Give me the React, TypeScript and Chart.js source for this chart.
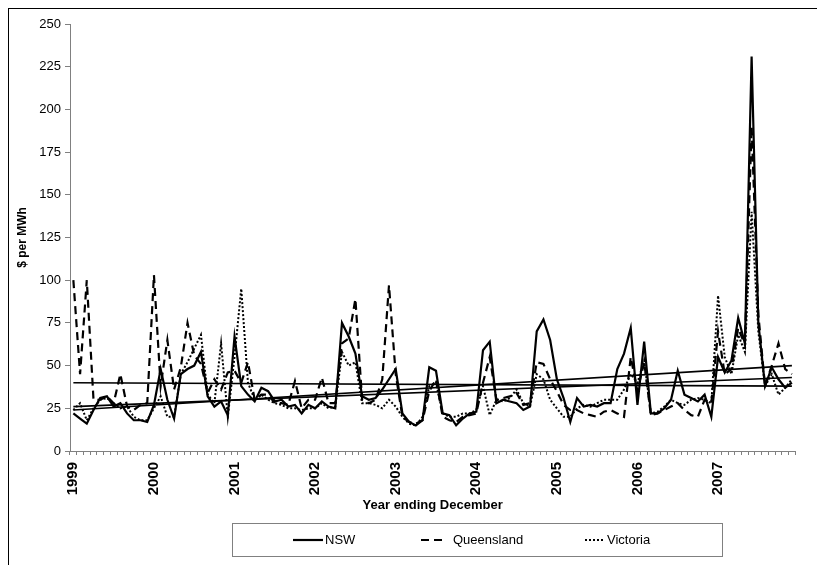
import { useEffect, useRef } from "react";
import { Chart, registerables } from "chart.js";

Chart.register(...registerables);

const years = ["1999", "2000", "2001", "2002", "2003", "2004", "2005", "2006", "2007"];
const months = ["Jan", "Feb", "Mar", "Apr", "May", "Jun", "Jul", "Aug", "Sep", "Oct", "Nov", "Dec"];
const seriesNames = ["NSW", "Queensland", "Victoria"];

const nsw = [
  22, 19, 16, 24, 31, 32, 26, 28, 22, 18, 18, 17,
  27, 48, 30, 19, 45, 48, 50, 58, 32, 26, 29, 21,
  67, 38, 33, 29, 37, 35, 29, 30, 26, 27, 22, 27,
  25, 29, 26, 25, 75, 67, 57, 32, 30, 31, 36, 42,
  48, 22, 17, 15, 18, 49, 47, 22, 21, 15, 19, 22,
  23, 59, 64, 28, 30, 29, 28, 24, 26, 70, 77, 65,
  42, 31, 17, 31, 26, 27, 26, 28, 28, 48, 57, 72,
  27, 64, 22, 22, 25, 30, 47, 33, 31, 29, 33, 20,
  55, 46, 53, 78, 63, 231, 75, 38, 49, 42, 37, 40,
];

const queensland = [
  100, 45, 100, 30, 30, 32, 28, 45, 26, 24, 27, 28,
  103, 38, 65, 36, 49, 75, 56, 51, 34, 42, 36, 46,
  47, 40, 52, 30, 33, 33, 28, 28, 27, 41, 25, 30,
  30, 43, 28, 28, 63, 66, 89, 30, 28, 30, 42, 97,
  45, 20, 17, 16, 18, 35, 42, 20, 18, 17, 20, 21,
  22, 40, 55, 30, 31, 32, 34, 27, 28, 52, 51, 42,
  35, 27, 24, 24, 22, 21, 20, 23, 24, 22, 20, 55,
  35, 52, 21, 22, 24, 26, 28, 24, 21, 20, 30, 28,
  70, 45, 48, 72, 62, 190, 80, 38, 50, 63, 48, 45,
];

const victoria = [
  24, 28, 18, 25, 30, 31, 28, 25, 26, 20, 18, 18,
  25, 32, 20, 20, 45, 52, 60, 68, 33, 28, 63, 20,
  55, 95, 40, 30, 33, 30, 28, 27, 25, 25, 24, 25,
  25, 28, 25, 26, 58, 50, 52, 28, 28, 27, 25, 30,
  26, 20, 16, 15, 20, 38, 40, 22, 20, 20, 22, 22,
  24, 38, 21, 30, 29, 31, 36, 28, 26, 45, 42, 30,
  25, 20, 20, 25, 27, 26, 28, 30, 30, 30, 36, 45,
  40, 53, 22, 23, 26, 30, 28, 27, 30, 31, 30, 28,
  91, 55, 45, 68, 58, 140, 70, 38, 45, 33, 37, 42,
];

// Linear trend lines (NSW, Queensland, Victoria): value at first and last month
const trendStart = [24, 40, 26];
const trendEnd = [50, 38, 43];

const yMin = 0;
const yMax = 250;
const yStep = 25;

const FONT = "'Liberation Sans', Arial, Helvetica, sans-serif";

const boxLegend = {
  id: "boxLegend",
  afterDraw(chart: any) {
    const ctx = chart.ctx as CanvasRenderingContext2D;
    ctx.save();
    ctx.strokeStyle = "#808080";
    ctx.lineWidth = 1;
    ctx.setLineDash([]);
    ctx.strokeRect(223.5, 514.5, 490, 33);
    const items = [
      { ds: 0, x0: 284, x1: 314, tx: 316 },
      { ds: 1, x0: 412, x1: 435, tx: 444 },
      { ds: 2, x0: 576, x1: 596, tx: 598 },
    ];
    const cy = 531;
    ctx.font = `13px ${FONT}`;
    ctx.textBaseline = "middle";
    ctx.textAlign = "left";
    ctx.fillStyle = "#000";
    items.forEach(({ ds, x0, x1, tx }) => {
      const d = chart.data.datasets[ds];
      ctx.beginPath();
      ctx.strokeStyle = "#000";
      ctx.lineWidth = d.borderWidth;
      ctx.setLineDash(d.borderDash || []);
      ctx.moveTo(x0, cy);
      ctx.lineTo(x1, cy);
      ctx.stroke();
      ctx.setLineDash([]);
      ctx.fillText(d.label, tx, cy);
    });
    ctx.restore();
  },
};

export default function App() {
  const ref = useRef<HTMLCanvasElement | null>(null);

  useEffect(() => {
    if (!ref.current) return;
    Chart.defaults.font.family = FONT;
    Chart.defaults.color = "#000";

    const labels = years.flatMap((y) => months.map((m) => `${m} ${y}`));
    const n = labels.length;
    const trend = (k: number) => {
      const arr: (number | null)[] = new Array(n).fill(null);
      arr[0] = trendStart[k];
      arr[n - 1] = trendEnd[k];
      return arr;
    };

    const chart = new Chart(ref.current, {
      type: "line",
      data: {
        labels,
        datasets: [
          { label: seriesNames[0], data: nsw, borderColor: "#000", borderWidth: 2.2, borderDash: [], pointRadius: 0, tension: 0 },
          { label: seriesNames[1], data: queensland, borderColor: "#000", borderWidth: 2.2, borderDash: [8, 5], pointRadius: 0, tension: 0 },
          { label: seriesNames[2], data: victoria, borderColor: "#000", borderWidth: 2, borderDash: [2, 2], pointRadius: 0, tension: 0 },
          { label: "NSW trend", data: trend(0), borderColor: "#000", borderWidth: 1.6, pointRadius: 0, spanGaps: true },
          { label: "Queensland trend", data: trend(1), borderColor: "#000", borderWidth: 1.6, pointRadius: 0, spanGaps: true },
          { label: "Victoria trend", data: trend(2), borderColor: "#000", borderWidth: 1.6, pointRadius: 0, spanGaps: true },
        ],
      },
      options: {
        animation: false,
        responsive: false,
        events: [],
        layout: { padding: { left: 0, right: 20, top: 15, bottom: 50 } },
        plugins: {
          legend: { display: false },
          tooltip: { enabled: false },
          title: { display: false },
        },
        scales: {
          x: {
            type: "category",
            offset: true,
            grid: { display: true, drawOnChartArea: false, drawTicks: true, tickLength: 4, color: "#808080", offset: true },
            border: { display: true, color: "#808080", width: 1 },
            ticks: {
              autoSkip: false,
              maxRotation: 90,
              minRotation: 90,
              padding: 7,
              color: "#000",
              font: { size: 15, weight: "bold" },
              callback: (_v: any, i: number) => (i % months.length === 0 ? years[i / months.length] : ""),
            },
            title: {
              display: true,
              text: "Year ending December",
              color: "#000",
              font: { size: 13, weight: "bold" },
              padding: { top: 0, bottom: 2 },
            },
            afterFit: (s: any) => {
              s.height = 64;
            },
          },
          y: {
            min: yMin,
            max: yMax,
            ticks: { stepSize: yStep, padding: 4, color: "#000", font: { size: 13 } },
            grid: { display: true, drawOnChartArea: false, drawTicks: true, tickLength: 5, color: "#808080" },
            border: { display: true, color: "#808080", width: 1 },
            title: {
              display: true,
              text: "$ per MWh",
              color: "#000",
              font: { size: 12, weight: "bold" },
              padding: { top: 6, bottom: 0 },
            },
            afterFit: (s: any) => {
              s.width = 61;
            },
          },
        },
      },
      plugins: [boxLegend],
    } as any);

    return () => chart.destroy();
  }, []);

  return (
    <div
      style={{
        position: "absolute",
        left: 8,
        top: 8,
        width: 809,
        height: 557,
        boxSizing: "border-box",
        borderTop: "1px solid #000",
        borderLeft: "1px solid #000",
        background: "#fff",
        overflow: "hidden",
      }}
    >
      <canvas ref={ref} width={808} height={556} style={{ display: "block", width: 808, height: 556 }} />
    </div>
  );
}
